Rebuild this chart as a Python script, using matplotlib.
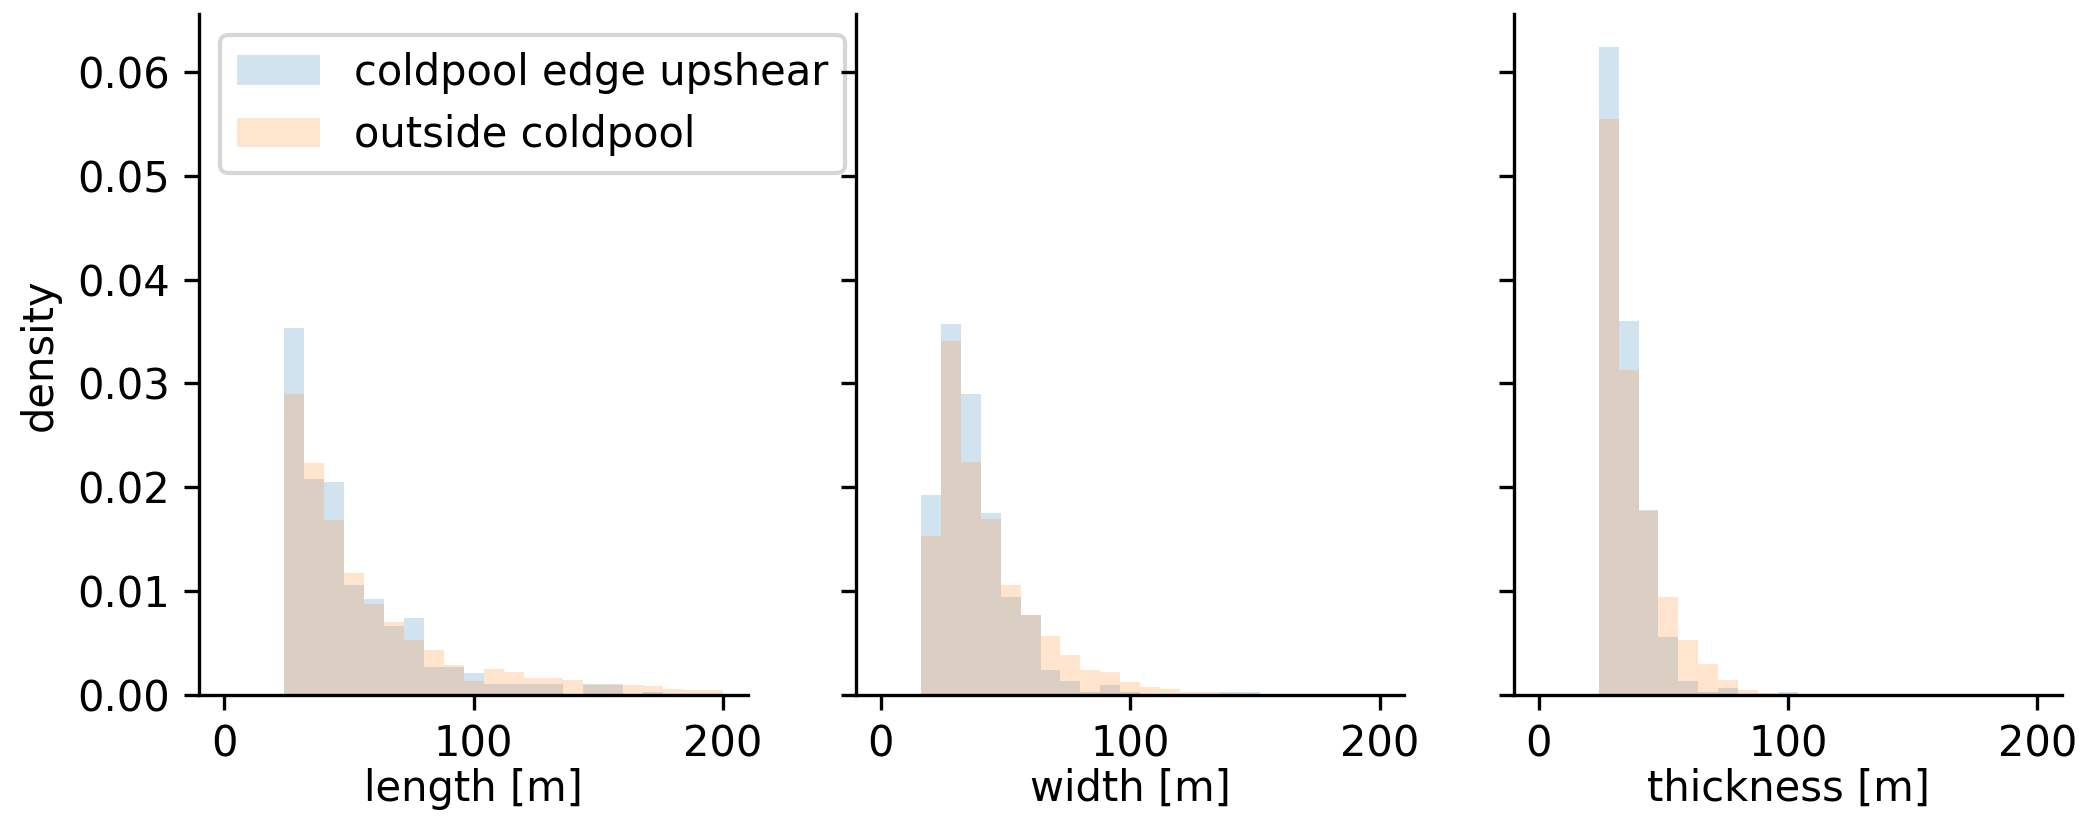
import numpy as np
import matplotlib
matplotlib.use("Agg")
import matplotlib.pyplot as plt

# Histogram densities per bin (bin width 8 m)
length_edges = np.arange(24, 201, 8)
length_edge_upshear = [0.0353, 0.0208, 0.0205, 0.0106, 0.0092, 0.0066, 0.0074, 0.0027,
                       0.0027, 0.0021, 0.0010, 0.0010, 0.0010, 0.0010, 0.0, 0.0010,
                       0.0010, 0.0, 0.00023, 0.0, 0.0, 0.0]
length_outside = [0.0290, 0.0223, 0.0168, 0.0117, 0.0087, 0.0070, 0.0053, 0.0043,
                  0.0029, 0.0013, 0.00245, 0.00216, 0.00158, 0.00158, 0.00139, 0.00094,
                  0.00094, 0.00090, 0.00081, 0.00052, 0.00042, 0.00042]

width_edges = np.arange(16, 201, 8)
width_edge_upshear = [0.0192, 0.0357, 0.0290, 0.0175, 0.0094, 0.0077, 0.00235, 0.00129,
                      0.00023, 0.00090, 0.00023, 0.0, 0.0, 0.0, 0.0, 0.00023,
                      0.00023, 0.0, 0.0, 0.0, 0.0, 0.0, 0.0]
width_outside = [0.0153, 0.0341, 0.0224, 0.0169, 0.0106, 0.0077, 0.00565, 0.00381,
                 0.00235, 0.00216, 0.00119, 0.00071, 0.00052, 0.00023, 0.00023, 0.0,
                 0.0, 0.0, 0.0, 0.0, 0.0, 0.0, 0.0]

thickness_edges = np.arange(24, 201, 8)
thickness_edge_upshear = [0.0624, 0.0360, 0.0178, 0.0056, 0.00129, 0.00023, 0.00061, 0.0,
                          0.0, 0.00023, 0.0, 0.0, 0.0, 0.0, 0.0, 0.0,
                          0.0, 0.0, 0.0, 0.0, 0.0, 0.0]
thickness_outside = [0.0555, 0.0313, 0.0177, 0.0094, 0.00526, 0.00294, 0.00139, 0.00042,
                     0.00013, 0.0, 0.0, 0.0, 0.0, 0.0, 0.0, 0.0,
                     0.0, 0.0, 0.0, 0.0, 0.0, 0.0]

x_labels = ["length [m]", "width [m]", "thickness [m]"]
series_labels = ["coldpool edge upshear", "outside coldpool"]
x_ticks = [0, 100, 200]

panels = [
    (length_edges, length_edge_upshear, length_outside),
    (width_edges, width_edge_upshear, width_outside),
    (thickness_edges, thickness_edge_upshear, thickness_outside),
]

plt.rcParams["font.size"] = 10
fig = plt.figure(figsize=(2089 / 300, 819 / 300), dpi=300)

lefts = [0.0955, 0.4098, 0.7247]
axes = []
for i, left in enumerate(lefts):
    ax = fig.add_axes([left, 0.1518, 0.2625, 0.831],
                      sharey=axes[0] if axes else None)
    axes.append(ax)

for i, (ax, (edges, up, out)) in enumerate(zip(axes, panels)):
    edges = np.asarray(edges)
    centers = edges[:-1] + np.diff(edges) / 2
    ax.hist(centers, bins=edges, weights=up, alpha=0.2, color="tab:blue",
            label=series_labels[0])
    ax.hist(centers, bins=edges, weights=out, alpha=0.2, color="tab:orange",
            label=series_labels[1])
    ax.set_xlim(-10, 210)
    ax.set_xticks(x_ticks)
    ax.set_xlabel(x_labels[i], labelpad=0.5)
    ax.spines["top"].set_visible(False)
    ax.spines["right"].set_visible(False)
    if i > 0:
        ax.tick_params(labelleft=False)

axes[0].set_ylim(0, 0.0656)
axes[0].set_yticks([0.0, 0.01, 0.02, 0.03, 0.04, 0.05, 0.06])
axes[0].set_ylabel("density")
axes[0].legend(loc="upper left")

fig.savefig("out.png", dpi=300)
